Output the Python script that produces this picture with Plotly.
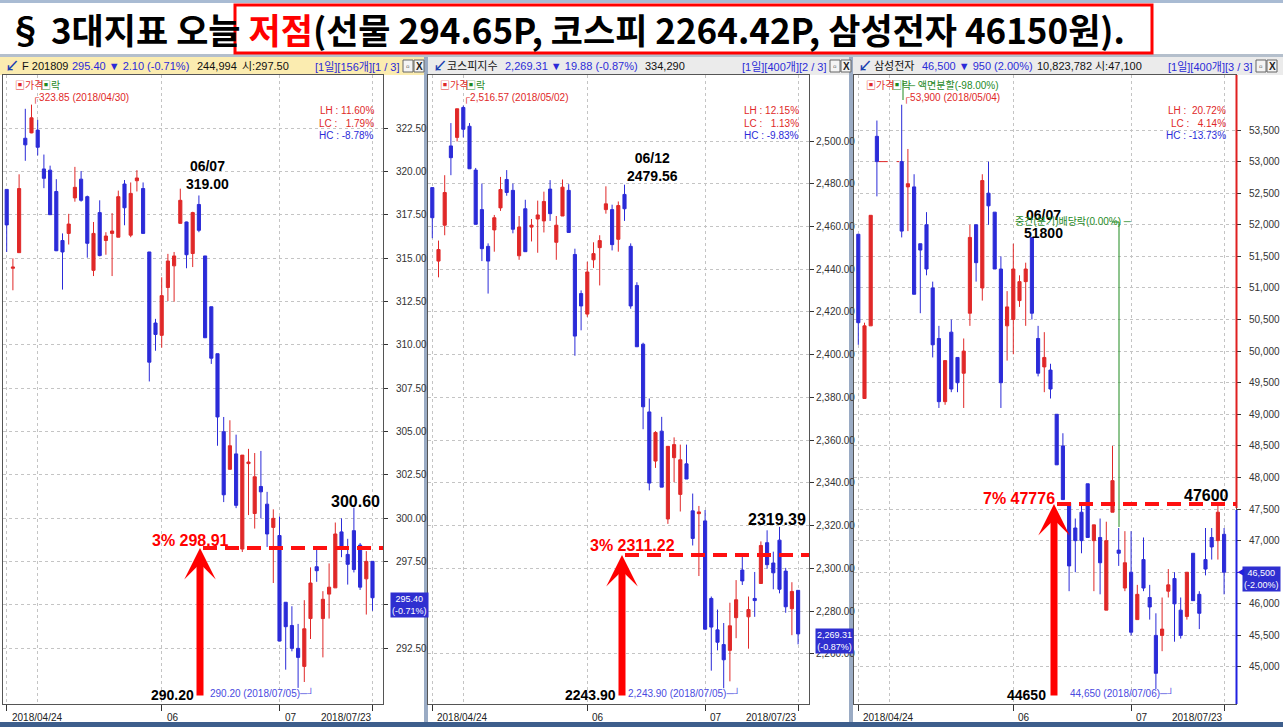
import plotly.graph_objects as go

W, H = 1283, 727

# ---------------- data ----------------
day_index = list(range(60))
tick_index = [0, 25, 44, 59]
tick_text = ["2018/04/24", "06", "07", "2018/07/23"]
month_grid_index = [5]

# KOSPI200 futures F 201809
fut_open = [318.96, 314.41, 315.31, 321.91, 322.22, 322.38, 320.14, 320.07, 318.84, 316.01,
            316.42, 318.47, 319.55, 318.54, 314.29, 317.62, 316.01, 316.42, 316.20, 319.27,
            316.32, 319.46, 319.01, 315.35, 311.25, 310.54, 313.30, 314.55, 317.00, 317.08,
            315.26, 318.09, 315.12, 312.19, 309.48, 304.98, 302.81, 303.70, 298.21, 303.14,
            300.26, 301.82, 300.80, 299.46, 298.99, 295.14, 293.80, 292.48, 291.44, 294.20,
            297.19, 294.20, 295.61, 295.97, 299.20, 297.90, 299.27, 298.44, 296.49, 297.50]
fut_high = [318.96, 314.98, 319.83, 323.61, 323.85, 322.97, 320.97, 320.33, 319.55, 316.42,
            317.55, 320.26, 320.02, 318.60, 317.08, 318.33, 316.49, 317.59, 318.89, 319.50,
            319.36, 320.07, 319.36, 315.35, 311.49, 313.89, 315.24, 315.35, 319.00, 317.10,
            317.67, 318.61, 315.12, 312.19, 309.48, 305.83, 305.64, 304.81, 303.63, 303.99,
            303.75, 303.87, 301.51, 300.50, 300.09, 295.14, 294.91, 293.89, 295.26, 297.15,
            298.33, 295.78, 297.38, 299.74, 299.98, 298.80, 300.60, 298.56, 298.09, 297.50]
fut_low = [315.35, 313.14, 315.31, 320.61, 322.20, 320.92, 319.03, 317.50, 315.40, 313.18,
           315.78, 318.25, 318.25, 315.02, 313.96, 315.10, 315.19, 313.96, 316.20, 316.89,
           316.20, 318.84, 316.42, 307.88, 309.65, 309.83, 312.52, 312.48, 317.00, 314.41,
           314.48, 316.49, 310.40, 308.89, 304.17, 300.92, 302.81, 300.57, 298.04, 300.17,
           299.39, 299.98, 298.33, 296.25, 292.90, 291.25, 292.31, 290.20, 290.54, 293.02,
           296.32, 291.96, 294.20, 295.97, 297.74, 296.16, 296.86, 295.85, 294.43, 294.65]
fut_close = [316.91, 314.48, 319.01, 321.53, 323.09, 321.39, 319.60, 317.50, 315.42, 315.35,
             316.96, 319.08, 318.33, 315.85, 316.42, 315.14, 316.27, 316.56, 318.54, 317.90,
             318.73, 319.62, 316.42, 308.99, 310.59, 312.83, 314.83, 315.12, 318.33, 315.19,
             317.62, 316.60, 310.40, 309.22, 305.83, 301.34, 304.17, 300.73, 303.63, 303.23,
             302.38, 301.51, 299.08, 299.98, 292.90, 293.73, 292.48, 291.96, 293.61, 296.25,
             296.96, 295.31, 296.01, 299.08, 298.28, 297.33, 297.03, 296.01, 297.50, 295.40]

# KOSPI index
kospi_open = [2478.2, 2443.8, 2460.6, 2497.7, 2501.7, 2515.7, 2506.9, 2486.4, 2467.9, 2450.7,
              2458.4, 2468.7, 2482.0, 2476.9, 2446.3, 2468.3, 2459.7, 2463.5, 2462.6, 2477.5,
              2452.6, 2464.9, 2476.9, 2446.9, 2428.6, 2419.0, 2444.4, 2450.1, 2467.9, 2467.9,
              2454.0, 2475.0, 2450.7, 2432.4, 2404.9, 2373.2, 2350.2, 2364.2, 2323.1, 2351.8,
              2334.6, 2348.9, 2326.9, 2325.6, 2322.2, 2285.9, 2271.2, 2264.3, 2261.6, 2276.9,
              2299.2, 2277.3, 2285.9, 2292.9, 2312.0, 2302.5, 2313.2, 2298.7, 2281.1, 2289.7]
kospi_high = [2478.2, 2453.4, 2484.0, 2508.4, 2515.1, 2516.57, 2508.4, 2487.4, 2480.1, 2452.1,
              2465.4, 2483.2, 2486.4, 2480.1, 2464.9, 2472.5, 2463.5, 2472.1, 2476.3, 2481.7,
              2464.9, 2482.0, 2479.8, 2449.6, 2430.1, 2443.5, 2452.6, 2455.9, 2478.8, 2470.2,
              2471.7, 2479.56, 2452.1, 2433.9, 2405.6, 2379.5, 2364.2, 2370.9, 2357.1, 2361.3,
              2357.9, 2357.9, 2335.0, 2329.2, 2327.3, 2286.8, 2280.7, 2274.4, 2283.9, 2294.5,
              2305.5, 2286.8, 2298.3, 2312.6, 2317.8, 2307.8, 2319.39, 2300.2, 2293.5, 2289.7]
kospi_low = [2454.5, 2436.2, 2455.9, 2484.0, 2499.8, 2501.7, 2487.0, 2461.0, 2443.8, 2428.6,
             2448.2, 2467.3, 2474.4, 2456.8, 2444.4, 2448.2, 2453.0, 2447.7, 2457.2, 2462.6,
             2444.4, 2464.9, 2457.2, 2399.5, 2411.4, 2417.7, 2440.6, 2432.4, 2466.0, 2448.8,
             2448.2, 2462.6, 2421.5, 2403.7, 2365.1, 2336.5, 2347.0, 2338.0, 2320.8, 2340.3,
             2326.6, 2341.8, 2310.7, 2296.4, 2271.5, 2252.1, 2261.6, 2243.9, 2247.1, 2267.3,
             2292.2, 2262.4, 2277.3, 2292.9, 2299.8, 2290.2, 2288.3, 2279.2, 2268.7, 2264.42]
kospi_close = [2464.1, 2449.2, 2475.9, 2492.2, 2515.1, 2505.5, 2487.0, 2461.0, 2449.6, 2443.8,
               2464.1, 2477.3, 2475.9, 2458.7, 2459.7, 2448.2, 2460.6, 2465.4, 2471.7, 2466.0,
               2460.6, 2478.4, 2457.2, 2408.7, 2422.8, 2438.7, 2447.3, 2453.4, 2470.6, 2451.5,
               2469.8, 2468.3, 2422.8, 2403.7, 2375.6, 2339.9, 2363.6, 2338.0, 2357.1, 2357.9,
               2350.8, 2341.8, 2314.0, 2326.4, 2271.5, 2272.5, 2265.4, 2257.2, 2273.1, 2285.3,
               2294.1, 2280.7, 2284.9, 2310.7, 2301.7, 2297.9, 2290.2, 2282.0, 2289.19, 2269.31]

# Samsung Electronics (trading halted 04/30-05/03 for the stock split)
sam_open = [51850, 49250, 50400, 53400, None, None, None, 53000, 52600, 52600,
            51700, 52000, 51000, 50200, 49200, 50300, 49900, 49650, 50600, 52000,
            51000, 52500, 52200, 51300, 50400, 50500, 50800, 51100, 51800, 50200,
            49750, 49700, 49000, 48500, 47600, 47200, 47450, 47900, 47000, 47050,
            45900, 47450, 46850, 46250, 46500, 45750, 46700, 46100, 45500, 45500,
            46200, 46400, 45900, 45800, 46800, 46150, 46700, 47050, 47000, 47100]
sam_high = [51850, 50450, 52150, 53650, None, None, None, 53900, 53200, 52800,
            51700, 52200, 51100, 50400, 49850, 50500, 49900, 50200, 52000, 52000,
            52800, 53000, 52200, 51500, 50950, 51700, 51200, 51400, 51800, 50400,
            50300, 49800, 49000, 48700, 47600, 47350, 47550, 47900, 47250, 47350,
            47300, 48500, 47200, 47150, 47150, 46300, 47050, 46300, 45850, 46100,
            46550, 46500, 46100, 46500, 46800, 46200, 47200, 47200, 47600, 47200]
sam_low = [50100, 49250, 50400, 52450, None, None, None, 51800, 51900, 50900,
           50600, 51200, 49900, 49100, 49150, 49350, 49350, 49100, 50400, 51100,
           50800, 52000, 51300, 49100, 49850, 49950, 50700, 50400, 50500, 49600,
           49350, 49250, 48200, 47650, 46200, 46500, 46800, 47050, 46200, 46150,
           45900, 47450, 46600, 46200, 45500, 45750, 46200, 45750, 44650, 45250,
           46100, 45400, 45450, 45750, 46050, 45600, 46450, 46700, 46700, 46150]
sam_close = [50450, 50400, 52150, 53000, None, None, None, 51900, 52650, 50900,
             51600, 51300, 50100, 49200, 49850, 49400, 49500, 50000, 51800, 51400,
             52700, 52300, 51300, 49500, 50700, 51300, 51100, 51300, 50600, 49650,
             49900, 49400, 48200, 47650, 46600, 47000, 47000, 47050, 47250, 46650,
             47000, 47950, 46800, 46650, 45550, 46150, 46250, 45950, 44900, 45600,
             46300, 46000, 45500, 46500, 46050, 45850, 46550, 46900, 47450, 46500]

# annotated levels (low of the period, target %, target level as drawn, rebound high)
low_label = ["290.20", "2243.90", "44650"]
target_label = ["3% 298.91", "3% 2311.22", "7% 47776"]
target_line = [298.27, 2306.2, 47580]
rebound_label = ["300.60", "2319.39", "47600"]
peak_label = ["06/07<br>319.00", "06/12<br>2479.56", "06/07<br>51800"]
low_note = ["290.20 (2018/07/05)─┘", "2,243.90 (2018/07/05)─┘", "44,650 (2018/07/06)─┘"]
high_note = ["┌323.85 (2018/04/30)", "┌2,516.57 (2018/05/02)", "┌53,900 (2018/05/04)"]
stats_lh = ["LH : 11.60%", "LH : 12.15%", "LH :  20.72%"]
stats_lc = ["LC :   1.79%", "LC :   1.13%", "LC :   4.14%"]
stats_hc = ["HC : -8.78%", "HC : -9.83%", "HC : -13.73%"]
last_box = ["295.40<br>(-0.71%)", "2,269.31<br>(-0.87%)", "46,500<br>(-2.00%)"]
last_value = [295.40, 2269.31, 46500]

header_name = ["F 201809", "코스피지수", "삼성전자"]
header_change = ["295.40 ▼ 2.10 (-0.71%)", "2,269.31 ▼ 19.88 (-0.87%)", "46,500 ▼ 950 (2.00%)"]
header_volume = ["244,994", "334,290", "10,823,782"]
header_openp = ["시:297.50", "", "시:47,100"]
header_info = ["[1일][156개][1 / 3]", "[1일][400개][2 / 3]", "[1일][400개][3 / 3]"]

title_black1 = "§ 3대지표 오늘 "
title_red = "저점"
title_black2 = "(선물 294.65P, 코스피 2264.42P, 삼성전자 46150원)."

# ---------------- styling / layout helpers ----------------
RED = "#e02828"
BLUE = "#2b2bd8"
GREEN = "#1f8a1f"
SMALL = "Liberation Sans, Arial, Noto Sans CJK KR, sans-serif"
BOLD = "Liberation Sans, Arial, sans-serif"


def PX(x):
    return x / W


def PY(y):
    return 1 - y / H


TOP, BOTTOM = 75, 704
panel_px = [(3, 383), (428, 809), (854, 1236)]
first_candle_px = [6.7, 432.3, 858.3]
STEP = 6.2
yranges = [[289.27, 325.56], [2236.5, 2530.9], [44414, 54371]]
ytick_vals = [
    [292.5 + 2.5 * k for k in range(13)],
    [2260 + 20 * k for k in range(13)],
    [45000 + 500 * k for k in range(18)],
]
ytick_fmt = [".2f", ",.2f", ","]
ylabel_standoff = [6, 0, 6]


def to_idx(p, x):
    return (x - first_candle_px[p]) / STEP


series = [
    (fut_open, fut_high, fut_low, fut_close),
    (kospi_open, kospi_high, kospi_low, kospi_close),
    (sam_open, sam_high, sam_low, sam_close),
]

fig = go.Figure()
for p, (o, h, l, c) in enumerate(series):
    sfx = "" if p == 0 else str(p + 1)
    fig.add_trace(go.Candlestick(
        x=day_index, open=o, high=h, low=l, close=c,
        xaxis="x" + sfx, yaxis="y" + sfx,
        increasing=dict(line=dict(color=RED, width=1), fillcolor=RED),
        decreasing=dict(line=dict(color=BLUE, width=1), fillcolor=BLUE),
        whiskerwidth=0, showlegend=False, hoverinfo="skip",
    ))

layout = dict(
    width=W, height=H, margin=dict(l=0, r=0, t=0, b=0, autoexpand=False),
    paper_bgcolor="white", plot_bgcolor="white", showlegend=False,
    boxgap=0.28,
)
for p in range(3):
    sfx = "" if p == 0 else str(p + 1)
    left, right = panel_px[p]
    xr = [to_idx(p, left), to_idx(p, right)]
    layout["xaxis" + sfx] = dict(
        domain=[PX(left), PX(right)], range=xr, anchor="y" + sfx,
        tickvals=tick_index, showticklabels=False,
        ticks="outside", ticklen=6, tickcolor="#333",
        showgrid=True, gridcolor="#c4c4c4", griddash="dot", gridwidth=1,
        minor=dict(tickvals=month_grid_index, showgrid=True, gridcolor="#c4c4c4",
                   griddash="dot", ticks=""),
        showline=True, mirror=True, linecolor="#555", linewidth=1,
        zeroline=False, rangeslider=dict(visible=False), fixedrange=True,
        automargin=False,
    )
    layout["yaxis" + sfx] = dict(
        domain=[PY(BOTTOM), PY(TOP)], range=yranges[p], anchor="x" + sfx, side="right",
        tickvals=ytick_vals[p], tickformat=ytick_fmt[p],
        ticks="outside", ticklen=4, tickcolor="#333",
        ticklabelstandoff=ylabel_standoff[p],
        tickfont=dict(family=SMALL, size=10, color="#333"),
        showgrid=True, gridcolor="#c4c4c4", griddash="dot", gridwidth=1,
        showline=True, mirror=True, linecolor="#555", linewidth=1,
        zeroline=False, fixedrange=True, automargin=False,
    )
fig.update_layout(**layout)

shapes = []
ann = []


def text(x, y, t, color="#000", size=11, family=SMALL, xanchor="left", yanchor="middle",
         xref="paper", yref="paper", **kw):
    d = dict(x=x, y=y, text=t, showarrow=False, xref=xref, yref=yref,
             xanchor=xanchor, yanchor=yanchor,
             font=dict(color=color, size=size, family=family))
    d.update(kw)
    ann.append(d)


def rect(x0, y0, x1, y1, fill=None, line=None, lw=1):
    shapes.append(dict(type="rect", xref="paper", yref="paper",
                       x0=PX(x0), x1=PX(x1), y0=PY(y1), y1=PY(y0),
                       fillcolor=fill or "rgba(0,0,0,0)",
                       line=dict(color=line or "rgba(0,0,0,0)", width=lw if line else 0),
                       layer="below"))


def pline(x0, y0, x1, y1, color, width=1, dash=None, layer="above"):
    shapes.append(dict(type="line", xref="paper", yref="paper",
                       x0=PX(x0), x1=PX(x1), y0=PY(y0), y1=PY(y1),
                       line=dict(color=color, width=width, dash=dash), layer=layer))


# ---- window frame ----
rect(0, 0, W, 3, fill="#a9bbd3")
rect(0, 54, W, 57, fill="#b4bfcc")
rect(424, 57, 428, H, fill="#9aabc4")
rect(849, 57, 853, H, fill="#9aabc4")
rect(0, 722, W, H, fill="#3d5e8c")

# ---- title ----
rect(235, 5, 1152, 53, line="#ff0000", lw=3)
text(PX(6), PY(29),
     "<b>" + title_black1 + "<span style='color:#ff0000'>" + title_red + "</span>"
     + title_black2 + "</b>",
     color="#000", size=35, family="Noto Sans CJK KR, sans-serif")

# ---- panel headers ----
header_bg = ["#fbecb0", "#ebebeb", "#ebebeb"]
header_x = [0, 428, 853]
header_w = [424, 421, 430]
pos_name = [20, 445, 872]
pos_change = [70, 503, 920]
pos_vol = [195, 643, 1035]
pos_open = [240, 0, 1093]
pos_info_right = [401, 828, 1254]
for p in range(3):
    x0 = header_x[p]
    rect(x0, 57, x0 + header_w[p], 75, fill=header_bg[p])
    text(PX(x0 + 3), PY(66), "<b>↙</b>", color="#1a3fb0", size=14)
    text(PX(pos_name[p]), PY(66), header_name[p], color="#111", size=11)
    text(PX(pos_change[p]), PY(66), header_change[p], color=BLUE, size=11)
    text(PX(pos_vol[p]), PY(66), header_volume[p], color="#111", size=11)
    if header_openp[p]:
        text(PX(pos_open[p]), PY(66), header_openp[p], color="#111", size=11)
    text(PX(pos_info_right[p]), PY(66), header_info[p], color=BLUE, size=11, xanchor="right")
    bx = pos_info_right[p] + 2
    rect(bx, 60, bx + 10, 72, fill="#f4f4f4", line="#666")
    rect(bx + 11, 60, bx + 21, 72, fill="#f4f4f4", line="#666")
    text(PX(bx + 5), PY(66), "▫", color="#333", size=10, xanchor="center")
    text(PX(bx + 16), PY(66), "<b>X</b>", color="#222", size=10, xanchor="center")

# ---- in-panel texts ----
legend_x = [13, 438, 864]
stats_right = [376, 801, 1228]
low_note_x = [208, 626, 1068]
high_note_x = [30, 461, 901]
box_left = [390, 815, 1242]
for p in range(3):
    sfx = "" if p == 0 else str(p + 1)
    text(PX(legend_x[p]), PY(85), "▣가격", color=RED, size=10)
    text(PX(legend_x[p] + 26), PY(85), "▣락", color=GREEN, size=10)
    text(PX(high_note_x[p]), PY(98), high_note[p], color=RED, size=10)
    text(PX(stats_right[p]), PY(111), stats_lh[p], color=RED, size=10, xanchor="right")
    text(PX(stats_right[p]), PY(123), stats_lc[p], color=RED, size=10, xanchor="right")
    text(PX(stats_right[p]), PY(135), stats_hc[p], color=BLUE, size=10, xanchor="right")
    text(PX(low_note_x[p]), PY(693), low_note[p], color="#4a4ae0", size=10)
    # x tick labels
    for k, (ti, tt) in enumerate(zip(tick_index, tick_text)):
        last = k == len(tick_index) - 1
        text(ti, PY(717), tt, color="#222", size=10, xref="x" + sfx,
             xanchor="right" if last else "left", xshift=0 if last else 3)
    # last-price box on the axis
    text(PX(box_left[p]), last_value[p], last_box[p], color="white", size=9,
         yref="y" + sfx, bgcolor="#2f2fd0", borderpad=1, yshift=-7)

# ---- hand-drawn markup: arrows, dashed target lines, labels ----
arrow_px = [200, 622, 1054]
arrow_tail_px = 697
peak_center = [(207, 175), (652, 167), (1043, 224)]
rebound_pos = [(355, 501), (777, 519), (1206, 495)]
target_right = [231, 677, 1057]
target_y = [540, 545, 498]
low_right = [196, 618, 1048]
for p in range(3):
    sfx = "" if p == 0 else str(p + 1)
    xa = to_idx(p, arrow_px[p])
    ya0, ya1 = yranges[p]
    tail_val = ya0 + (ya1 - ya0) * (BOTTOM - arrow_tail_px) / (BOTTOM - TOP)
    shapes.append(dict(type="line", xref="x" + sfx, yref="y" + sfx,
                       x0=to_idx(p, arrow_px[p] + 3), x1=to_idx(p, panel_px[p][1]),
                       y0=target_line[p], y1=target_line[p],
                       line=dict(color="#ff1010", width=4, dash="14px,8px")))
    ann.append(dict(x=xa, y=target_line[p], ax=xa, ay=tail_val,
                    xref="x" + sfx, yref="y" + sfx, axref="x" + sfx, ayref="y" + sfx,
                    text="", showarrow=True, arrowhead=3, arrowsize=0.75,
                    arrowwidth=7, arrowcolor="#ff0000", standoff=0))
    text(PX(target_right[p]), PY(target_y[p]), "<b>" + target_label[p] + "</b>",
         color="#ff0000", size=16, family=BOLD, xanchor="right")
    text(PX(low_right[p]), PY(695), "<b>" + low_label[p] + "</b>",
         color="#000", size=14, family=BOLD, xanchor="right")
    text(PX(rebound_pos[p][0]), PY(rebound_pos[p][1]), "<b>" + rebound_label[p] + "</b>",
         color="#000", size=16, family=BOLD, xanchor="center")
    text(PX(peak_center[p][0]), PY(peak_center[p][1]), "<b>" + peak_label[p] + "</b>",
         color="#000", size=14, family=BOLD, xanchor="center")

# ---- Samsung-specific notes ----
pline(903, 80, 903, 100, GREEN)
text(PX(905), PY(86), "─ 액면분할(-98.00%)", color=GREEN, size=10)
text(PX(1013), PY(222), "중간(분기)배당락(0.00%) ─", color=GREEN, size=10)
pline(1112, 222, 1119, 222, GREEN)
pline(1119, 222, 1119, 527, GREEN)
# suspended-trading gap line
shapes.append(dict(type="line", xref="x3", yref="y3", x0=3.3, x1=6.6, y0=53000, y1=53000,
                   line=dict(color=RED, width=1, dash="dash")))
# price bar on the right edge of the Samsung panel
pline(1236.5, 75, 1236.5, 508, "#e02020", width=2)
pline(1236.5, 510, 1236.5, 704, "#2020e0", width=2)
text(PX(1235), PY(572), "◀", color="#2020e0", size=8)

fig.update_layout(shapes=shapes, annotations=ann)
fig.write_html("out.html", post_script="document.body.style.margin='0';",
               config={"displayModeBar": False})
